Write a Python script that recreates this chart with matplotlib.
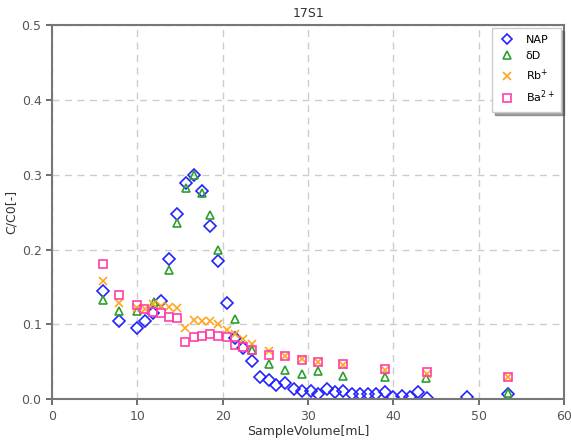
import numpy as np
import matplotlib
matplotlib.use("Agg")
import matplotlib.pyplot as plt

# Breakthrough data for column 17S1 (sample volume in mL, relative concentration C/C0)
nap_x = [6.0, 7.9, 10.0, 10.9, 11.8, 12.8, 13.7, 14.7, 15.7, 16.6, 17.6, 18.5, 19.5, 20.5,
         21.5, 22.4, 23.4, 24.4, 25.4, 26.3, 27.3, 28.3, 29.3, 30.3, 31.2, 32.2, 33.2, 34.1,
         35.1, 36.1, 37.0, 38.0, 39.0, 40.0, 41.0, 41.9, 42.9, 43.9, 48.6, 53.4, 58.2]
nap_y = [0.145, 0.105, 0.095, 0.105, 0.115, 0.131, 0.187, 0.248, 0.289, 0.299, 0.278, 0.231,
         0.185, 0.129, 0.082, 0.068, 0.051, 0.030, 0.026, 0.019, 0.022, 0.014, 0.011, 0.011,
         0.007, 0.014, 0.010, 0.011, 0.007, 0.007, 0.007, 0.007, 0.009, 0.003, 0.004, 0.003,
         0.009, 0.001, 0.003, 0.007, -0.008]

dd_x = [6.0, 7.9, 10.0, 11.9, 13.7, 14.7, 15.7, 16.6, 17.6, 18.5, 19.5, 21.5, 23.4, 25.4,
        27.3, 29.3, 31.2, 34.1, 39.0, 43.8, 53.4]
dd_y = [0.132, 0.118, 0.118, 0.130, 0.172, 0.235, 0.282, 0.299, 0.276, 0.246, 0.199, 0.107,
        0.066, 0.047, 0.039, 0.034, 0.037, 0.031, 0.029, 0.028, 0.008]

rb_x = [6.0, 7.9, 10.0, 10.9, 11.8, 12.8, 13.7, 14.6, 15.6, 16.6, 17.6, 18.5, 19.5, 20.5,
        21.5, 22.4, 23.4, 25.4, 27.3, 29.3, 31.2, 34.1, 39.0, 43.9, 53.4]
rb_y = [0.158, 0.129, 0.122, 0.120, 0.127, 0.125, 0.123, 0.122, 0.095, 0.106, 0.105, 0.105,
        0.101, 0.092, 0.087, 0.080, 0.074, 0.064, 0.057, 0.053, 0.049, 0.046, 0.039, 0.034,
        0.029]

ba_x = [6.0, 7.9, 10.0, 10.8, 11.8, 12.8, 13.7, 14.6, 15.6, 16.6, 17.6, 18.5, 19.5, 20.5,
        21.5, 22.4, 23.4, 25.4, 27.3, 29.3, 31.2, 34.1, 39.0, 43.9, 53.4]
ba_y = [0.180, 0.139, 0.126, 0.121, 0.117, 0.115, 0.110, 0.108, 0.077, 0.083, 0.084, 0.087,
        0.084, 0.083, 0.073, 0.069, 0.065, 0.059, 0.057, 0.052, 0.049, 0.047, 0.040, 0.036,
        0.030]

fig = plt.figure(figsize=(5.71, 4.41), dpi=100)
ax = fig.add_axes([0.091, 0.095, 0.897, 0.848])

ax.plot(nap_x, nap_y, 'D', ms=6, mfc='none', mec='#2222ff', mew=1.2, label='NAP')
ax.plot(dd_x, dd_y, '^', ms=6, mfc='none', mec='#2ca02c', mew=1.2, label='δD')
ax.plot(rb_x, rb_y, 'x', ms=6, color='#ffa520', mew=1.2, label='Rb$^{+}$')
ax.plot(ba_x, ba_y, 's', ms=6, mfc='none', mec='#ff3fa5', mew=1.2, label='Ba$^{2+}$')

ax.set_xlim(0, 60)
ax.set_ylim(0, 0.5)
ax.set_xticks(np.arange(0, 61, 10))
ax.set_yticks(np.arange(0, 0.51, 0.1))
ax.grid(True, ls=(0, (5, 4)), color='#cccccc', lw=1)

for s in ax.spines.values():
    s.set_color('#777777')
    s.set_linewidth(1.5)
ax.tick_params(colors='#555555', labelsize=9, width=1.2, length=4)

ax.set_title('17S1', fontsize=9, color='#333333')
ax.set_xlabel('SampleVolume[mL]', fontsize=9, color='#333333', labelpad=2)
ax.set_ylabel('C/C0[-]', fontsize=9, color='#333333', labelpad=3)

ax.legend(loc='upper right', fontsize=8, shadow=True, fancybox=False,
          framealpha=1, edgecolor='#cccccc', handletextpad=1.0, borderpad=0.6,
          labelspacing=0.55, handlelength=1.4, markerscale=0.85, borderaxespad=0.3)

fig.savefig('out.png', dpi=100)
